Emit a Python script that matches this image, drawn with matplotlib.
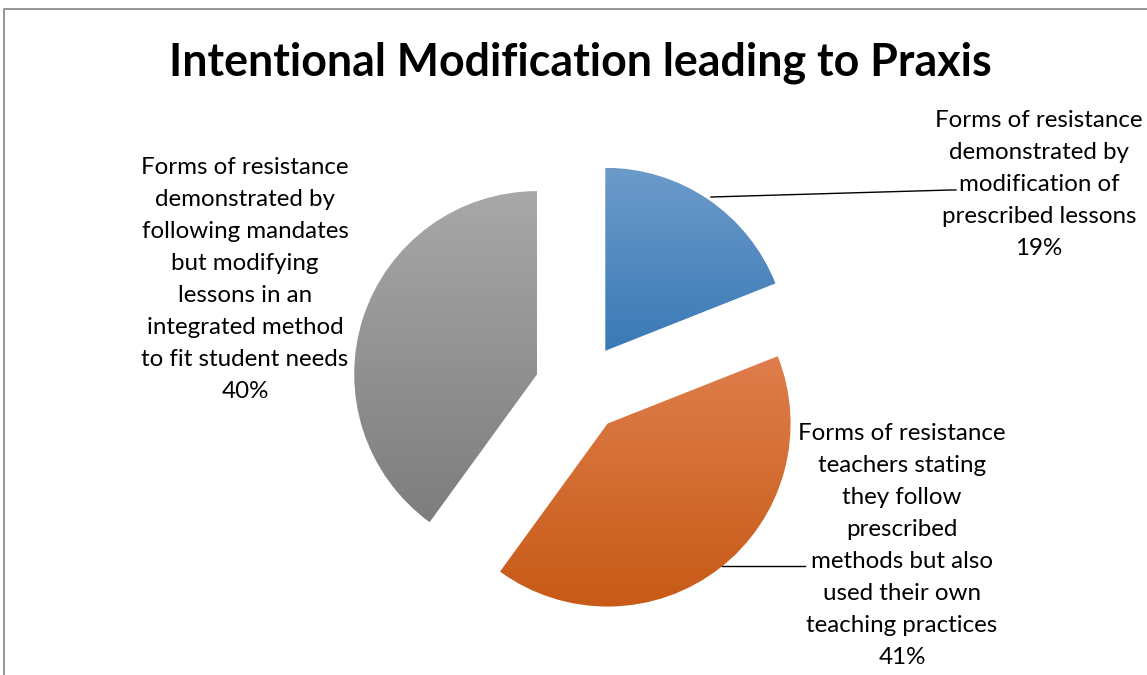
import numpy as np
import matplotlib
matplotlib.use("Agg")
import matplotlib.pyplot as plt
from matplotlib.colors import LinearSegmentedColormap

title = "Intentional Modification leading to Praxis"
labels = [
    "Forms of resistance\ndemonstrated by\nmodification of\nprescribed lessons",
    "Forms of resistance\nteachers stating\nthey follow\nprescribed\nmethods but also\nused their own\nteaching practices",
    "Forms of resistance\ndemonstrated by\nfollowing mandates\nbut modifying\nlessons in an\nintegrated method\nto fit student needs",
]
values = [19, 41, 40]
top_colors = ["#6c9bca", "#de7e4c", "#a8a8a8"]
bottom_colors = ["#3a79b6", "#c75a16", "#7d7d7d"]

W, H = 1147, 675
fig = plt.figure(figsize=(W / 100, H / 100), dpi=100)
ax = fig.add_axes([0, 0, 1, 1])

def Y(y):
    return H - y

FONT = "Lato"
wedges, _ = ax.pie(values, radius=183, center=(580, Y(388)), startangle=90,
                   counterclock=False, explode=[45, 45, 45],
                   wedgeprops=dict(linewidth=0, facecolor="none"), frame=True)
ax.set_xlim(0, W)
ax.set_ylim(0, H)
ax.set_aspect("equal")
ax.axis("off")

for w, c1, c2 in zip(wedges, top_colors, bottom_colors):
    bb = w.get_path().get_extents()
    cmap = LinearSegmentedColormap.from_list("g", [c2, c1])
    grad = np.linspace(0, 1, 256).reshape(-1, 1)
    im = ax.imshow(grad, cmap=cmap, origin="lower", aspect="auto",
                   extent=[bb.x0, bb.x1, bb.y0, bb.y1], zorder=1,
                   interpolation="bilinear")
    im.set_clip_path(w)

# frame
ax.plot([4, 4, W], [0, Y(9), Y(9)], color="#8c8c8c", lw=1.3, zorder=0)

# title
ax.text(580, Y(76), title, ha="center", va="baseline", fontsize=32.2,
        fontweight="bold", family=FONT)

def lab(x, ybase_last, text, pct):
    # va='baseline' aligns the baseline of the last line
    ax.text(x, Y(ybase_last), text + "\n" + pct, ha="center", va="baseline",
            fontsize=17.4, family=FONT, linespacing=1.65)

pcts = [f"{v}%" for v in values]
lab(1039, 255, labels[0], pcts[0])
lab(902, 664, labels[1], pcts[1])
lab(245, 398, labels[2], pcts[2])

# leader lines
ax.plot([711, 950, 956], [Y(197), Y(190), Y(190)], color="black", lw=1)
ax.plot([722, 805], [Y(566), Y(566)], color="black", lw=1)

fig.savefig("out.png", dpi=100)
